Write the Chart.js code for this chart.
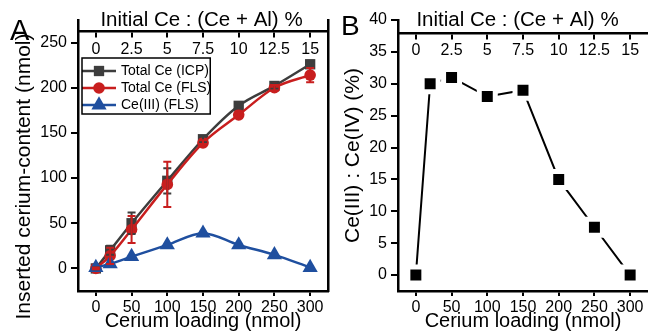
<!DOCTYPE html>
<html><head><meta charset="utf-8">
<script src="https://cdn.jsdelivr.net/npm/chart.js@4"></script>
<style>
html,body{margin:0;padding:0;background:#fff;}
#wrap{position:relative;width:648px;height:336px;overflow:hidden;}
canvas{position:absolute;left:0;top:0;}
</style></head><body>
<div id="wrap"><canvas id="cA" width="648" height="336"></canvas><canvas id="cB" width="648" height="336"></canvas></div>
<script>
// ---- data ----
const loading = [0, 20, 50, 100, 150, 200, 250, 300];
const totalIcp = [0, 20, 50, 97, 143, 180, 202, 226];
const totalIcpErr = [1, 5, 12, 14, 3, 3, 3, 4];
const totalFls = [0, 14, 43, 93, 139, 170, 200, 214];
const totalFlsErr = [1, 9, 15, 25, 3, 3, 3, 8];
const ce3Fls = [1, 5, 13, 26, 39, 26, 15, 1];
const ratioCe3Ce4 = [0, 30, 31, 28, 29, 15, 7.5, 0];
const loadingTicks = [0, 50, 100, 150, 200, 250, 300];
const initialCeTicks = [0, 2.5, 5, 7.5, 10, 12.5, 15];
const contentTicks = [0, 50, 100, 150, 200, 250];
const ratioTicks = [0, 5, 10, 15, 20, 25, 30, 35, 40];
const seriesNames = ['Total Ce (ICP)', 'Total Ce (FLS)', 'Ce(III) (FLS)'];

const GRAY = '#3d3d3d', RED = '#c81e1e', BLUE = '#1f4f9f';
const FONT = "'Liberation Sans', Arial, Helvetica, sans-serif";
Chart.defaults.font.family = FONT;
Chart.defaults.color = '#000';

const pts = (ys) => loading.map((x, i) => ({x: x, y: ys[i]}));
const setTicks = (arr) => (s) => { s.ticks = arr.map(v => ({value: v})); };
const noPadH = (h) => (s) => { if (h !== undefined) s.height = h; s.paddingLeft = 0; s.paddingRight = 0; };
const noPadV = (w) => (s) => { if (w !== undefined) s.width = w; s.paddingTop = 0; s.paddingBottom = 0; };

function icon(color, style, radius) {
  const c = document.createElement('canvas');
  c.width = 36; c.height = 18;
  const g = c.getContext('2d');
  g.strokeStyle = color; g.lineWidth = 2.5;
  g.beginPath(); g.moveTo(1, 9); g.lineTo(35, 9); g.stroke();
  g.fillStyle = color;
  Chart.helpers.drawPoint(g, {pointStyle: style, radius: radius, borderWidth: 0, rotation: 0}, 18, 9);
  return c;
}
const styles = [['rect', 7.3, GRAY], ['circle', 5.8, RED], ['triangle', 8.8, BLUE]];
const legendIcons = styles.map(s => icon(s[2], s[0], s[1]));

const errorBars = {
  id: 'errorBars',
  afterDatasetsDraw(chart) {
    const ctx = chart.ctx, xs = chart.scales.x, ys = chart.scales.y;
    chart.data.datasets.forEach(ds => {
      if (!ds.errors) return;
      ctx.save();
      ctx.strokeStyle = ds.borderColor; ctx.lineWidth = 2;
      ds.data.forEach((p, i) => {
        const e = ds.errors[i];
        if (!e) return;
        const px = xs.getPixelForValue(p.x);
        const y1 = ys.getPixelForValue(p.y + e), y2 = ys.getPixelForValue(p.y - e);
        ctx.beginPath();
        ctx.moveTo(px, y1); ctx.lineTo(px, y2);
        ctx.moveTo(px - 4, y1); ctx.lineTo(px + 4, y1);
        ctx.moveTo(px - 4, y2); ctx.lineTo(px + 4, y2);
        ctx.stroke();
      });
      ctx.restore();
    });
  }
};

function textPlugin(items) {
  return {
    id: 'texts',
    beforeDraw(chart) {
      if (chart.legend && chart.options.plugins.legend.display !== false) {
        const lg = chart.legend;
        lg.left = 81; lg.top = 61; lg.right = lg.left + lg.width; lg.bottom = 336;
      }
    },
    afterDraw(chart) {
      const ctx = chart.ctx;
      ctx.save();
      ctx.fillStyle = '#000';
      items(chart).forEach(t => {
        ctx.save();
        ctx.font = t.font;
        ctx.textAlign = t.align || 'center';
        ctx.textBaseline = t.baseline || 'middle';
        ctx.translate(t.x, t.y);
        if (t.rot) ctx.rotate(t.rot);
        ctx.fillText(t.text, 0, 0);
        ctx.restore();
      });
      if (chart.legend && chart.options.plugins.legend.display !== false) {
        const lg = chart.legend;
        const hb = lg.legendHitBoxes || [];
        const w = Math.max.apply(null, hb.map(h => h.width)) + 1;
        const h = hb.reduce((a, b) => a + b.height + 3, 0) + 5;
        ctx.strokeStyle = '#000'; ctx.lineWidth = 1.5;
        ctx.strokeRect(lg.left + 1, lg.top - 3, w, h);
      }
      ctx.restore();
    }
  };
}

const axisCommon = (extra) => Object.assign({
  grid: {drawOnChartArea: false, color: '#000', lineWidth: 2, tickLength: 6},
  border: {color: '#000', width: 2.5},
  ticks: {font: {size: 16}, color: '#000'}
}, extra);

// ---- Panel A ----
new Chart(document.getElementById('cA'), {
  type: 'line',
  data: {
    datasets: [
      {label: seriesNames[0], data: pts(totalIcp), errors: totalIcpErr, borderColor: GRAY, backgroundColor: GRAY,
       pointStyle: 'rect', pointRadius: 7.3, pointBorderWidth: 0, borderWidth: 2.5, order: 3, cubicInterpolationMode: 'monotone'},
      {label: seriesNames[1], data: pts(totalFls), errors: totalFlsErr, borderColor: RED, backgroundColor: RED,
       pointStyle: 'circle', pointRadius: 5.8, pointBorderWidth: 0, borderWidth: 2.5, order: 2, cubicInterpolationMode: 'monotone'},
      {label: seriesNames[2], data: pts(ce3Fls), borderColor: BLUE, backgroundColor: BLUE,
       pointStyle: 'triangle', pointRadius: 8.8, pointBorderWidth: 0, borderWidth: 2.5, order: 1, cubicInterpolationMode: 'monotone'}
    ]
  },
  options: {
    responsive: false, animation: false, events: [],
    layout: {autoPadding: false, padding: {top: 20, right: 320, left: 0, bottom: 0}},
    scales: {
      x: axisCommon({type: 'linear', position: 'bottom', min: -25, max: 325,
        afterBuildTicks: setTicks(loadingTicks), afterFit: noPadH(45),
        grid: {drawOnChartArea: false, color: '#000', lineWidth: 2, tickLength: 5},
        ticks: {font: {size: 16}, color: '#000', padding: 2},
        title: {display: true, text: 'Cerium loading (nmol)', font: {size: 20}, color: '#000', padding: {top: 0, bottom: 3}}}),
      y: axisCommon({type: 'linear', position: 'left', min: -25, max: 275,
        afterBuildTicks: setTicks(contentTicks), afterFit: noPadV(78),
        grid: {drawOnChartArea: false, color: '#000', lineWidth: 2, tickLength: 7},
        ticks: {font: {size: 16}, color: '#000', padding: 4}}),
      yR: {type: 'linear', position: 'right', axis: 'y', min: -25, max: 275, afterFit: noPadV(0),
        ticks: {display: false}, grid: {display: false, drawTicks: false}, border: {display: true, color: '#000', width: 2.5}},
      x2: axisCommon({type: 'linear', axis: 'x', position: {y: 262}, min: -1.25, max: 16.25,
        afterBuildTicks: setTicks(initialCeTicks), afterFit: noPadH(),
        grid: {drawOnChartArea: false, color: '#000', lineWidth: 2, tickLength: 5},
        ticks: {font: {size: 16}, color: '#000', padding: 3, callback: v => String(v)}})
    },
    plugins: {
      tooltip: {enabled: false},
      legend: {
        position: 'chartArea', align: 'start',
        labels: {
          usePointStyle: true, pointStyleWidth: 30, boxHeight: 14, padding: 3,
          font: {size: 14}, color: '#000',
          sort: (a, b) => a.datasetIndex - b.datasetIndex,
          generateLabels: ch => Chart.defaults.plugins.legend.labels.generateLabels(ch)
            .map(it => Object.assign(it, {pointStyle: legendIcons[it.datasetIndex]}))
        }
      }
    }
  },
  plugins: [errorBars, textPlugin(ch => {
    const ca = ch.chartArea;
    return [
      {text: 'A', font: '29px ' + FONT, x: 10, y: 39.5, align: 'left', baseline: 'alphabetic'},
      {text: 'Initial Ce : (Ce + Al) %', font: '20.5px ' + FONT, x: ca.left + 123.5,
       y: ch.scales.y.getPixelForValue(262) - 11},
      {text: 'Inserted cerium-content (nmol)', font: '21px ' + FONT, x: 24.5, y: (ca.top + ca.bottom) / 2 + 21, rot: -Math.PI / 2}
    ];
  })]
});

// ---- Panel B ----
new Chart(document.getElementById('cB'), {
  type: 'line',
  data: {
    datasets: [
      {label: 'Ce(III) : Ce(IV)', data: pts(ratioCe3Ce4), borderColor: '#000', backgroundColor: '#000',
       pointStyle: 'rect', pointRadius: 11.3, pointBorderWidth: 5, pointBorderColor: '#fff', pointBackgroundColor: '#000',
       borderWidth: 2, tension: 0}
    ]
  },
  options: {
    responsive: false, animation: false, events: [],
    layout: {autoPadding: false, padding: {top: 20, right: 0, left: 330, bottom: 0}},
    scales: {
      x: axisCommon({type: 'linear', position: 'bottom', min: -25, max: 325,
        afterBuildTicks: setTicks(loadingTicks), afterFit: noPadH(45),
        grid: {drawOnChartArea: false, color: '#000', lineWidth: 2, tickLength: 5},
        ticks: {font: {size: 16}, color: '#000', padding: 2},
        title: {display: true, text: 'Cerium loading (nmol)', font: {size: 20}, color: '#000', padding: {top: 0, bottom: 3}}}),
      y: axisCommon({type: 'linear', position: 'left', min: -2.5, max: 40,
        afterBuildTicks: setTicks(ratioTicks), afterFit: noPadV(68),
        grid: {drawOnChartArea: false, color: '#000', lineWidth: 2, tickLength: 7},
        ticks: {font: {size: 16}, color: '#000', padding: 4},
        title: {display: true, text: 'Ce(III) : Ce(IV) (%)', font: {size: 21}, color: '#000', padding: {top: 10.5, bottom: 0}}}),
      x2: axisCommon({type: 'linear', axis: 'x', position: {y: 38}, min: -1.25, max: 16.25,
        afterBuildTicks: setTicks(initialCeTicks), afterFit: noPadH(),
        grid: {drawOnChartArea: false, color: '#000', lineWidth: 2, tickLength: 5},
        ticks: {font: {size: 16}, color: '#000', padding: 3, callback: v => String(v)}})
    },
    plugins: {tooltip: {enabled: false}, legend: {display: false}}
  },
  plugins: [textPlugin(ch => {
    const ca = ch.chartArea;
    return [
      {text: 'B', font: '28px ' + FONT, x: 341, y: 35, align: 'left', baseline: 'alphabetic'},
      {text: 'Initial Ce : (Ce + Al) %', font: '20.5px ' + FONT, x: ca.left + 119.5,
       y: ch.scales.y.getPixelForValue(38) - 12}
    ];
  })]
});
</script>
</body></html>
